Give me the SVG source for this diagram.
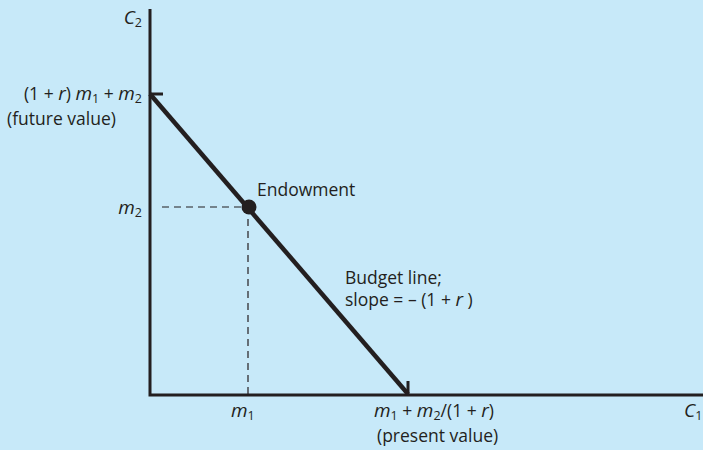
<svg xmlns="http://www.w3.org/2000/svg" width="703" height="450" viewBox="0 0 703 450">
<style>
text{font-family:"Open Sans","Liberation Sans",sans-serif;font-size:17.5px;fill:#231f20}
.i{font-style:italic;font-size:19px}
.s{font-size:12.5px}
.ax{stroke:#231f20;stroke-width:3;fill:none}
.d{stroke:#231f20;stroke-width:1.2;stroke-dasharray:7,5;fill:none}
</style>
<rect width="703" height="450" fill="#c7e9f9"/>
<g id="connectors">
<path class="ax" d="M150 9 V395 H703"/>
<path class="ax" d="M150 94 H163"/>
<path class="ax" d="M408 381 V395"/>
<path class="d" d="M162 207 H249"/>
<path class="d" d="M248 207 V395"/>
<path d="M150 94 L408 394" stroke="#231f20" stroke-width="4.5" fill="none"/>
</g>
<g id="endowment">
<circle cx="249" cy="207" r="7.5" fill="#231f20"/>
<text x="257" y="196">Endowment</text>
</g>
<g id="y-axis-label"><text x="142" y="24" class="i" text-anchor="end">C<tspan class="s" dy="3" font-style="normal">2</tspan></text></g>
<g id="future-value">
<text x="142" y="100" text-anchor="end">(1 + <tspan class="i">r</tspan>) <tspan class="i">m</tspan><tspan class="s" dy="3">1</tspan><tspan dy="-3"> + </tspan><tspan class="i">m</tspan><tspan class="s" dy="3">2</tspan></text>
<text x="7" y="125">(future value)</text>
</g>
<g id="m2-label"><text x="142" y="214" text-anchor="end"><tspan class="i">m</tspan><tspan class="s" dy="3">2</tspan></text></g>
<g id="budget-line-label">
<text x="345" y="284">Budget line;</text>
<text x="345" y="306">slope = – (1 + <tspan class="i">r</tspan> )</text>
</g>
<g id="m1-label"><text x="231" y="417"><tspan class="i">m</tspan><tspan class="s" dy="3">1</tspan></text></g>
<g id="present-value">
<text x="374" y="417"><tspan class="i">m</tspan><tspan class="s" dy="3">1</tspan><tspan dy="-3"> + </tspan><tspan class="i">m</tspan><tspan class="s" dy="3">2</tspan><tspan dy="-3">/(1 + </tspan><tspan class="i">r</tspan>)</text>
<text x="377" y="442">(present value)</text>
</g>
<g id="x-axis-label"><text x="684" y="417" class="i">C<tspan class="s" dy="3" font-style="normal">1</tspan></text></g>
</svg>
